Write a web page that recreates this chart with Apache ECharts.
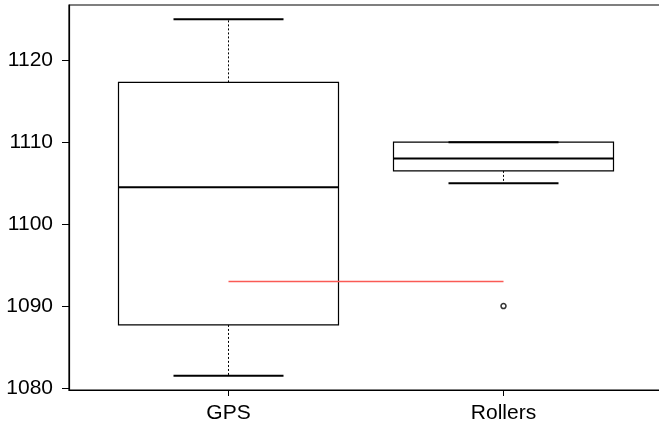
<!DOCTYPE html>
<html>
<head>
<meta charset="utf-8">
<script src="https://cdn.jsdelivr.net/npm/echarts@6/dist/echarts.min.js"></script>
<style>
  html, body { margin: 0; padding: 0; background: #fff; }
  #chart { width: 659px; height: 427px; }
</style>
</head>
<body>
<div id="chart"></div>
<script>
const categories = ['GPS', 'Rollers'];
const whiskerLow = [1081.5, 1105];
const q1 = [1087.7, 1106.5];
const median = [1104.5, 1108];
const q3 = [1117.3, 1110];
const whiskerHigh = [1125, 1110];
const outliers = [[2, 1090]];
const refLine = [1093, 1093];
const yTicks = [1080, 1090, 1100, 1110, 1120];

const boxData = categories.map((c, i) => [i + 1, whiskerLow[i], q1[i], median[i], q3[i], whiskerHigh[i]]);
const refData = refLine.map((v, i) => [i + 1, v]);

const chart = echarts.init(document.getElementById('chart'), null, { renderer: 'canvas' });

function renderBox(params, api) {
  const x = api.value(0);
  const pLow = api.coord([x, api.value(1)]);
  const pQ1 = api.coord([x, api.value(2)]);
  const pMed = api.coord([x, api.value(3)]);
  const pQ3 = api.coord([x, api.value(4)]);
  const pHigh = api.coord([x, api.value(5)]);
  const cx = pMed[0];
  const boxHalf = api.size([0.4, 0])[0];
  const stapleHalf = api.size([0.2, 0])[0];
  const black = '#000';
  return {
    type: 'group',
    children: [
      { type: 'line', shape: { x1: cx, y1: pQ3[1], x2: cx, y2: pHigh[1] },
        style: { stroke: black, lineWidth: 1, lineDash: [2, 2] } },
      { type: 'line', shape: { x1: cx, y1: pQ1[1], x2: cx, y2: pLow[1] },
        style: { stroke: black, lineWidth: 1, lineDash: [2, 2] } },
      { type: 'rect', shape: { x: cx - boxHalf, y: pQ3[1], width: boxHalf * 2, height: pQ1[1] - pQ3[1] },
        style: { fill: '#fff', stroke: black, lineWidth: 1.2 } },
      { type: 'line', shape: { x1: cx - boxHalf, y1: pMed[1], x2: cx + boxHalf, y2: pMed[1] },
        style: { stroke: black, lineWidth: 2 } },
      { type: 'line', shape: { x1: cx - stapleHalf, y1: pHigh[1], x2: cx + stapleHalf, y2: pHigh[1] },
        style: { stroke: black, lineWidth: 2 } },
      { type: 'line', shape: { x1: cx - stapleHalf, y1: pLow[1], x2: cx + stapleHalf, y2: pLow[1] },
        style: { stroke: black, lineWidth: 2 } }
    ]
  };
}

const font = 'Liberation Sans, Arial, sans-serif';

chart.setOption({
  animation: false,
  backgroundColor: '#fff',
  grid: { left: 69, top: 5, width: 594, bottom: 37, show: true, borderColor: '#000', borderWidth: 1.2,
    backgroundColor: 'transparent', containLabel: false, outerBoundsMode: 'none' },
  xAxis: {
    type: 'value', min: 0.42, max: 2.58,
    splitLine: { show: false },
    axisLine: { show: true, lineStyle: { color: '#000', width: 1.2 } },
    axisTick: { show: true, length: 6, customValues: [1, 2], lineStyle: { color: '#000' } },
    axisLabel: { customValues: [1, 2], margin: 13, color: '#000', fontFamily: font, fontSize: 21,
      formatter: v => categories[Math.round(v) - 1] }
  },
  yAxis: {
    type: 'value', min: 1079.76, max: 1126.74,
    splitLine: { show: false },
    axisLine: { show: true, lineStyle: { color: '#000', width: 1.2 } },
    axisTick: { show: true, length: 7, customValues: yTicks, lineStyle: { color: '#000' } },
    axisLabel: { customValues: yTicks, margin: 16, color: '#000', fontFamily: font, fontSize: 21,
      formatter: v => String(v) }
  },
  series: [
    { type: 'custom', renderItem: renderBox, data: boxData, z: 2, encode: { x: 0, y: [1, 2, 3, 4, 5] } },
    { type: 'line', data: refData, symbol: 'none', z: 3,
      lineStyle: { color: '#FA5A55', width: 1.6 } },
    { type: 'scatter', data: outliers, symbol: 'circle', symbolSize: 5, z: 4,
      itemStyle: { color: '#fff', borderColor: '#000', borderWidth: 1.5 } }
  ]
});
</script>
</body>
</html>
